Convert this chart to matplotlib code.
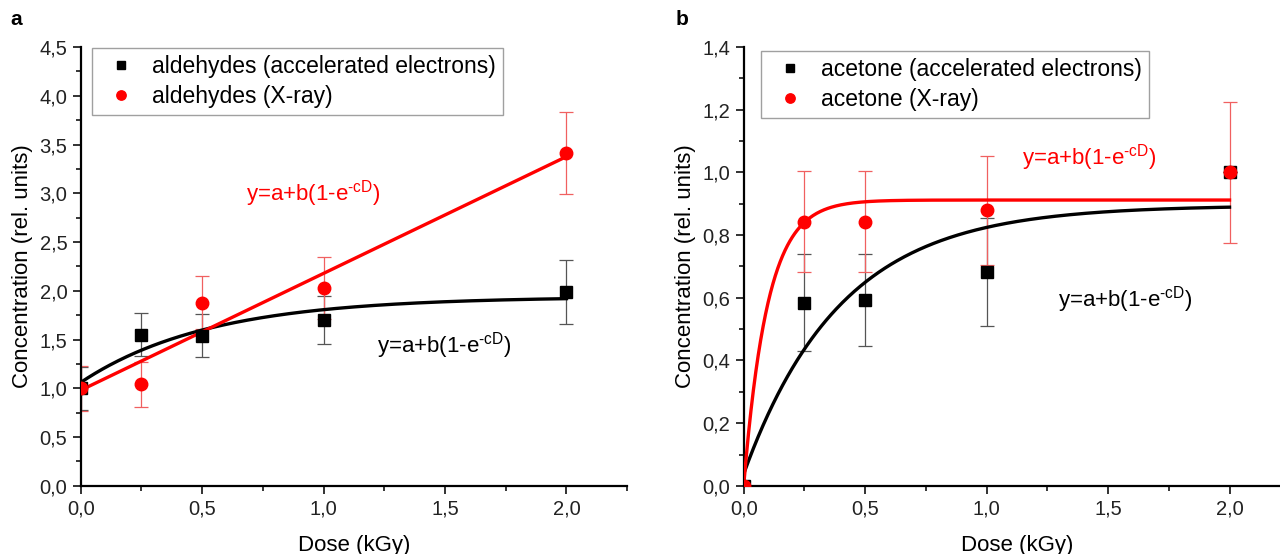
import numpy as np
import matplotlib
matplotlib.use("Agg")
from matplotlib import pyplot as plt
from matplotlib.ticker import MultipleLocator, FuncFormatter

plt.rcParams["font.family"] = ["Liberation Sans", "DejaVu Sans"]
plt.rcParams["mathtext.fontset"] = "custom"
plt.rcParams["mathtext.rm"] = "Liberation Sans"
plt.rcParams["mathtext.it"] = "Liberation Sans:italic"

dose = [0.0, 0.25, 0.5, 1.0, 2.0]

# panel a: aldehydes
ald_e = [1.0, 1.55, 1.54, 1.70, 1.99]
ald_e_err = [0.22, 0.22, 0.22, 0.25, 0.33]
ald_x = [1.0, 1.04, 1.88, 2.03, 3.41]
ald_x_err = [0.23, 0.23, 0.27, 0.32, 0.42]
# fit parameters a, b, c of y=a+b(1-exp(-cD))
ald_e_fit = (1.06, 0.88, 1.89)
ald_x_fit = (0.98, 1000.0, 0.0012)

# panel b: acetone
ace_e = [0.0, 0.585, 0.593, 0.683, 1.0]
ace_e_err = [0.0, 0.155, 0.148, 0.172, 0.0]
ace_x = [0.0, 0.843, 0.843, 0.879, 1.0]
ace_x_err = [0.0, 0.162, 0.162, 0.174, 0.225]
ace_e_fit = (0.038, 0.857, 2.5)
ace_x_fit = (0.0, 0.912, 10.2)

RED = "#ff0000"
comma = FuncFormatter(lambda v, p: ("%.1f" % v).replace(".", ","))


def fit_curve(params):
    a, b, c = params
    d = np.linspace(0, 2.0, 400)
    return d, a + b * (1 - np.exp(-c * d))


def panel(ax, e, e_err, xr, xr_err, e_fit, x_fit, names, ymax, ymaj, ymin, anchor):
    ax.errorbar(dose, e, yerr=e_err, fmt="none", ecolor="#555555", elinewidth=0.9,
                capsize=5, capthick=0.9, zorder=2)
    ax.errorbar(dose, xr, yerr=xr_err, fmt="none", ecolor="#f06060", elinewidth=0.9,
                capsize=5, capthick=0.9, zorder=2)
    d, y = fit_curve(e_fit)
    ax.plot(d, y, color="black", lw=2.4, zorder=3)
    d, y = fit_curve(x_fit)
    ax.plot(d, y, color=RED, lw=2.4, zorder=3)
    ax.plot(dose, e, "s", color="black", ms=8, ls="none", label=names[0], zorder=4)
    ax.plot(dose, xr, "o", color=RED, ms=9, ls="none", label=names[1], zorder=5)

    ax.set_xlim(0, 2.25)
    ax.set_ylim(0, ymax)
    ax.xaxis.set_major_locator(MultipleLocator(0.5))
    ax.xaxis.set_minor_locator(MultipleLocator(0.25))
    ax.yaxis.set_major_locator(MultipleLocator(ymaj))
    ax.yaxis.set_minor_locator(MultipleLocator(ymin))
    ax.xaxis.set_major_formatter(comma)
    ax.yaxis.set_major_formatter(comma)
    for s in ["top", "right"]:
        ax.spines[s].set_visible(False)
    for s in ["left", "bottom"]:
        ax.spines[s].set_linewidth(1.6)
    ax.tick_params(which="major", direction="out", length=6, width=1.3, labelsize=14.5, colors="#222222")
    ax.tick_params(which="minor", direction="out", length=3.5, width=1.1)
    ax.set_xlabel("Dose (kGy)", fontsize=16, labelpad=12)
    ax.set_ylabel("Concentration (rel. units)", fontsize=16, labelpad=5)
    leg = ax.legend(loc="upper left", bbox_to_anchor=anchor, borderaxespad=0,
                    fontsize=16.5, frameon=True, fancybox=False, markerscale=0.75,
                    handlelength=2.0, handletextpad=0.35, borderpad=0.3,
                    labelspacing=0.3)
    leg.get_frame().set_edgecolor("#888888")
    leg.get_frame().set_linewidth(1.0)
    return leg


fig = plt.figure(figsize=(12.8, 5.54), dpi=100)
ax1 = fig.add_axes([0.063, 0.123, 0.427, 0.792])
ax2 = fig.add_axes([0.581, 0.123, 0.427, 0.792])

panel(ax1, ald_e, ald_e_err, ald_x, ald_x_err, ald_e_fit, ald_x_fit,
      ["aldehydes (accelerated electrons)", "aldehydes (X-ray)"], 4.5, 0.5, 0.25,
      (0.02, 0.998))
panel(ax2, ace_e, ace_e_err, ace_x, ace_x_err, ace_e_fit, ace_x_fit,
      ["acetone (accelerated electrons)", "acetone (X-ray)"], 1.4, 0.2, 0.1,
      (0.031, 0.99))

eq = r"y=a+b(1-e$^{\text{-cD}}$)"
ax1.text(0.68, 3.0, eq, color=RED, fontsize=16, va="center")
ax1.text(1.22, 1.44, eq, color="black", fontsize=16, va="center")
ax2.text(1.146, 1.046, eq, color=RED, fontsize=16, va="center")
ax2.text(1.295, 0.593, eq, color="black", fontsize=16, va="center")

fig.text(0.008, 0.955, "a", fontsize=15, fontweight="bold")
fig.text(0.528, 0.955, "b", fontsize=15, fontweight="bold")

fig.savefig("out.png", dpi=100)
